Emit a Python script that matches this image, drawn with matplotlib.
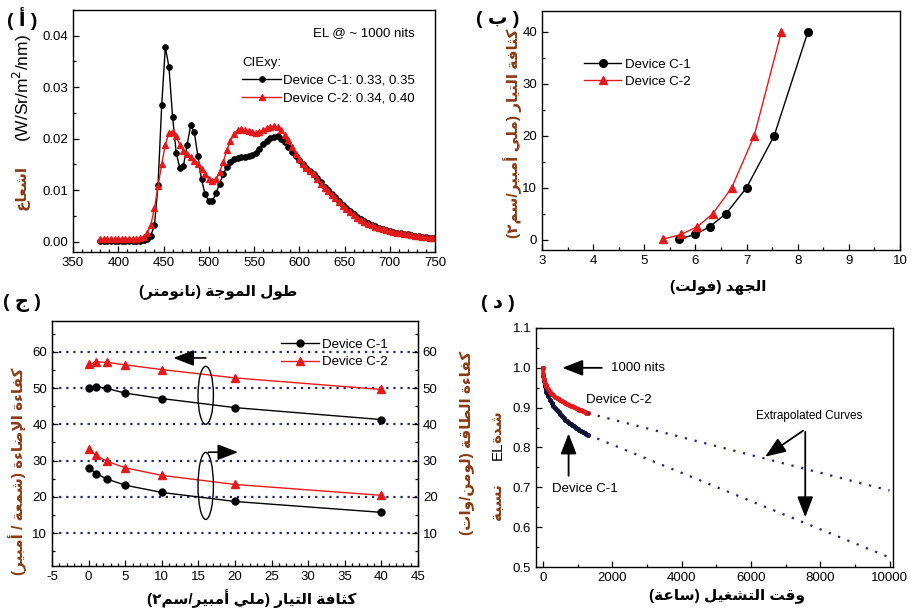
import numpy as np
import matplotlib
matplotlib.use("Agg")
import matplotlib.pyplot as plt
from matplotlib.ticker import MultipleLocator, FormatStrFormatter
from matplotlib.patches import Ellipse

plt.rcParams['font.family'] = ['Liberation Sans', 'DejaVu Sans']
plt.rcParams['axes.unicode_minus'] = False

# ---------------- data ----------------
# (a) EL spectra, sampled every 4 nm from 380 nm to 748 nm
wavelength = np.arange(380, 752, 4)
spec_c1 = [0.0001, 0.0001, 0.0001, 0.0001, 0.0001, 0.0001, 0.0001, 0.0001, 0.0001, 0.0001,
           0.0001, 0.0002, 0.0003, 0.0006, 0.0012, 0.0032, 0.0111, 0.0265, 0.0378, 0.0340,
           0.0243, 0.0173, 0.0143, 0.0147, 0.0187, 0.0226, 0.0213, 0.0166, 0.0121, 0.0092,
           0.0079, 0.0079, 0.0094, 0.0113, 0.0131, 0.0146, 0.0155, 0.0160, 0.0162, 0.0164,
           0.0165, 0.0166, 0.0168, 0.0172, 0.0180, 0.0189, 0.0196, 0.0201, 0.0204, 0.0205,
           0.0200, 0.0193, 0.0184, 0.0175, 0.0166, 0.0158, 0.0150, 0.0143, 0.0137, 0.0131,
           0.0123, 0.0115, 0.0107, 0.0100, 0.0093, 0.0086, 0.0079, 0.0072, 0.0065, 0.0059,
           0.0053, 0.0048, 0.0044, 0.0040, 0.0036, 0.0033, 0.0030, 0.0027, 0.0025, 0.0023,
           0.0021, 0.0019, 0.0017, 0.0016, 0.0015, 0.0014, 0.0013, 0.0012, 0.0011, 0.0010,
           0.0009, 0.0008, 0.0007]
spec_c2 = [0.0005, 0.0005, 0.0005, 0.0005, 0.0005, 0.0005, 0.0005, 0.0005, 0.0005, 0.0006,
           0.0006, 0.0007, 0.0010, 0.0017, 0.0033, 0.0065, 0.0108, 0.0151, 0.0188, 0.0212,
           0.0214, 0.0205, 0.0188, 0.0177, 0.0170, 0.0164, 0.0157, 0.0150, 0.0142, 0.0132,
           0.0122, 0.0118, 0.0122, 0.0135, 0.0155, 0.0178, 0.0196, 0.0210, 0.0216, 0.0218,
           0.0217, 0.0215, 0.0213, 0.0212, 0.0213, 0.0216, 0.0220, 0.0223, 0.0225, 0.0223,
           0.0217, 0.0208, 0.0197, 0.0184, 0.0171, 0.0160, 0.0151, 0.0143, 0.0137, 0.0131,
           0.0122, 0.0113, 0.0105, 0.0098, 0.0091, 0.0084, 0.0077, 0.0070, 0.0063, 0.0057,
           0.0051, 0.0046, 0.0042, 0.0038, 0.0035, 0.0032, 0.0029, 0.0027, 0.0025, 0.0023,
           0.0021, 0.0019, 0.0017, 0.0016, 0.0015, 0.0014, 0.0013, 0.0012, 0.0011, 0.0010,
           0.0009, 0.0008, 0.0007]
legend_c1 = "Device C-1: 0.33, 0.35"
legend_c2 = "Device C-2: 0.34, 0.40"

# (b) J-V
current_density = [0.1, 1, 2.5, 5, 10, 20, 40]
voltage_c1 = [5.67, 6.0, 6.28, 6.6, 7.0, 7.54, 8.2]
voltage_c2 = [5.37, 5.72, 6.04, 6.34, 6.71, 7.15, 7.68]

# (c) efficiencies vs current density
le_c1 = [50.1, 50.4, 49.9, 48.6, 47.1, 44.6, 41.3]
le_c2 = [56.5, 57.2, 57.1, 56.4, 55.1, 52.8, 49.6]
pe_c1 = [28.0, 26.4, 24.9, 23.2, 21.2, 18.7, 15.7]
pe_c2 = [33.2, 31.4, 29.8, 28.0, 25.9, 23.4, 20.4]

# (d) lifetime
time_h = [0, 10, 25, 50, 75, 100, 150, 200, 250, 300, 350, 400, 450, 500, 550, 600,
          650, 700, 750, 800, 850, 900, 950, 1000, 1050, 1100, 1150, 1200, 1250, 1300]
life_c1 = [1.0, 0.980, 0.968, 0.955, 0.946, 0.940, 0.929, 0.920, 0.912, 0.905, 0.899,
           0.893, 0.888, 0.883, 0.878, 0.874, 0.870, 0.866, 0.862, 0.859, 0.856, 0.853,
           0.850, 0.847, 0.844, 0.841, 0.839, 0.836, 0.834, 0.832]
life_c2 = [1.0, 0.985, 0.972, 0.963, 0.958, 0.954, 0.947, 0.940, 0.935, 0.931, 0.927,
           0.924, 0.921, 0.918, 0.916, 0.913, 0.911, 0.909, 0.907, 0.905, 0.903, 0.901,
           0.899, 0.897, 0.895, 0.893, 0.891, 0.889, 0.887, 0.886]
time_ext = [1300, 10000]
ext_c1 = [0.832, 0.524]
ext_c2 = [0.886, 0.692]

# ---------------- Arabic shaping (visual order) ----------------
_AR = {'ء': (0xFE80, 1), 'آ': (0xFE81, 2), 'أ': (0xFE83, 2), 'ؤ': (0xFE85, 2), 'إ': (0xFE87, 2),
       'ئ': (0xFE89, 4), 'ا': (0xFE8D, 2), 'ب': (0xFE8F, 4), 'ة': (0xFE93, 2), 'ت': (0xFE95, 4),
       'ث': (0xFE99, 4), 'ج': (0xFE9D, 4), 'ح': (0xFEA1, 4), 'خ': (0xFEA5, 4), 'د': (0xFEA9, 2),
       'ذ': (0xFEAB, 2), 'ر': (0xFEAD, 2), 'ز': (0xFEAF, 2), 'س': (0xFEB1, 4), 'ش': (0xFEB5, 4),
       'ص': (0xFEB9, 4), 'ض': (0xFEBD, 4), 'ط': (0xFEC1, 4), 'ظ': (0xFEC5, 4), 'ع': (0xFEC9, 4),
       'غ': (0xFECD, 4), 'ف': (0xFED1, 4), 'ق': (0xFED5, 4), 'ك': (0xFED9, 4), 'ل': (0xFEDD, 4),
       'م': (0xFEE1, 4), 'ن': (0xFEE5, 4), 'ه': (0xFEE9, 4), 'و': (0xFEED, 2), 'ى': (0xFEEF, 2),
       'ي': (0xFEF1, 4)}
_LAM_ALEF = {'آ': 0xFEF5, 'أ': 0xFEF7, 'إ': 0xFEF9, 'ا': 0xFEFB}


def _dual(c):
    return c in _AR and _AR[c][1] == 4


def _shape(s):
    out, i, n = [], 0, len(s)
    while i < n:
        c = s[i]
        if c not in _AR:
            out.append(c)
            i += 1
            continue
        jp = i > 0 and _dual(s[i - 1])
        if c == 'ل' and i + 1 < n and s[i + 1] in _LAM_ALEF:
            out.append(chr(_LAM_ALEF[s[i + 1]] + (1 if jp else 0)))
            i += 2
            continue
        jn = _dual(c) and i + 1 < n and s[i + 1] in _AR
        base, k = _AR[c]
        if k == 1:
            code = base
        elif jp and jn:
            code = base + 3
        elif jp:
            code = base + 1
        elif jn:
            code = base + 2
        else:
            code = base
        out.append(chr(code))
        i += 1
    return ''.join(out)


def ar(s):
    t = _shape(s)[::-1]
    return t.translate(str.maketrans('()', ')('))


# ---------------- figure ----------------
W, H = 917, 613
fig = plt.figure(figsize=(W / 100, H / 100), dpi=100)

AR_COLOR = '#8a3a12'
RED = '#e31a1c'
NAVY = '#23237a'
TICK_FS = 9.5
AR_FS = 11
LEG_FS = 9.5


def add_ax(l, t, r, b):
    return fig.add_axes([l / W, 1 - b / H, (r - l) / W, (b - t) / H])


def ftext(x, y, s, **kw):
    return fig.text(x / W, 1 - y / H, s, **kw)


def style(ax):
    ax.tick_params(which='both', direction='in', top=False, right=False, labelsize=TICK_FS,
                   width=0.9)
    ax.tick_params(which='major', length=4.5)
    ax.tick_params(which='minor', length=2.5)
    for sp in ax.spines.values():
        sp.set_linewidth(1.0)


# ---- (a) spectra ----
ax1 = add_ax(73, 10, 435, 252)
ax1.plot(wavelength, spec_c1, '-o', color='black', lw=1.0, ms=3.8, label=legend_c1)
ax1.plot(wavelength, spec_c2, '-^', color=RED, lw=1.0, ms=4.2, label=legend_c2)
ax1.set_xlim(350, 750)
ax1.set_ylim(-0.002, 0.045)
ax1.xaxis.set_major_locator(MultipleLocator(50))
ax1.xaxis.set_minor_locator(MultipleLocator(10))
ax1.yaxis.set_major_locator(MultipleLocator(0.01))
ax1.yaxis.set_minor_locator(MultipleLocator(0.005))
ax1.yaxis.set_major_formatter(FormatStrFormatter('%.2f'))
style(ax1)
leg1 = ax1.legend(loc='upper left', bbox_to_anchor=(0.468, 0.805), frameon=False,
                  title='CIExy:', alignment='left', fontsize=LEG_FS, title_fontsize=LEG_FS,
                  handlelength=2.9, handletextpad=0.2, borderpad=0, labelspacing=0.4,
                  borderaxespad=0)
ax1.text(0.945, 0.905, 'EL @ ~ 1000 nits', transform=ax1.transAxes, ha='right', va='center',
         fontsize=LEG_FS)
ftext(218, 292, ar('طول الموجة (نانومتر)'), ha='center', va='center', fontsize=AR_FS,
      fontweight='bold')
ftext(22, 88, '(W/Sr/m$^2$/nm)', rotation=90, ha='center', va='center', fontsize=12.5)
ftext(22, 188, ar('اشعاع'), rotation=90, ha='center', va='center', fontsize=AR_FS,
      fontweight='bold', color=AR_COLOR)
ftext(22, 19, '( ' + ar('أ') + ' )', ha='center', va='center', fontsize=14, fontweight='bold')

# ---- (b) J-V ----
ax2 = add_ax(542, 11, 900, 250)
ax2.plot(voltage_c1, current_density, '-o', color='black', lw=1.0, ms=5.5, label='Device C-1')
ax2.plot(voltage_c2, current_density, '-^', color=RED, lw=1.0, ms=6, label='Device C-2')
ax2.set_xlim(3, 10)
ax2.set_ylim(-2, 44)
ax2.xaxis.set_major_locator(MultipleLocator(1))
ax2.xaxis.set_minor_locator(MultipleLocator(0.5))
ax2.yaxis.set_major_locator(MultipleLocator(10))
ax2.yaxis.set_minor_locator(MultipleLocator(5))
style(ax2)
ax2.legend(loc='upper left', bbox_to_anchor=(0.118, 0.80), frameon=False, fontsize=LEG_FS,
           handlelength=2.8, handletextpad=0.3, borderpad=0, labelspacing=0.35,
           borderaxespad=0)
ftext(718, 287, ar('الجهد (فولت)'), ha='center', va='center', fontsize=AR_FS, fontweight='bold')
ftext(513, 133, ar('كثافة التيار (ملي أمبير/سم٢)'), rotation=90, ha='center', va='center',
      fontsize=AR_FS, fontweight='bold', color=AR_COLOR)
ftext(498, 19, '( ' + ar('ب') + ' )', ha='center', va='center', fontsize=14, fontweight='bold')

# ---- (c) efficiencies ----
ax3 = add_ax(52, 321, 418, 566)
for yv in [10, 20, 30, 40, 50, 60]:
    ax3.axhline(yv, color=NAVY, lw=1.6, ls=(0, (1, 2.2)), zorder=1)
ax3.plot(current_density, le_c1, '-o', color='black', lw=1.0, ms=5, label='Device C-1', zorder=3)
ax3.plot(current_density, le_c2, '-^', color=RED, lw=1.0, ms=5.5, label='Device C-2', zorder=3)
ax3.plot(current_density, pe_c1, '-o', color='black', lw=1.0, ms=5, zorder=3)
ax3.plot(current_density, pe_c2, '-^', color=RED, lw=1.0, ms=5.5, zorder=3)
ax3.set_xlim(-5, 45)
ax3.set_ylim(0.9, 68.5)
ax3.xaxis.set_major_locator(MultipleLocator(5))
ax3.xaxis.set_minor_locator(MultipleLocator(1))
ax3.yaxis.set_minor_locator(MultipleLocator(5))
ax3.set_yticks([10, 20, 30, 40, 50, 60])
style(ax3)
ax3r = ax3.twinx()
ax3r.set_ylim(ax3.get_ylim())
ax3r.set_yticks([10, 20, 30, 40, 50, 60])
ax3r.yaxis.set_minor_locator(MultipleLocator(5))
ax3r.tick_params(which='both', direction='in', labelsize=TICK_FS, width=0.9)
ax3r.tick_params(which='major', length=4.5)
ax3r.tick_params(which='minor', length=2.5)
ax3.add_patch(Ellipse((16, 48), 2.1, 16, fill=False, lw=1.0, color='black', zorder=4))
ax3.add_patch(Ellipse((16, 23), 2.1, 18.5, fill=False, lw=1.0, color='black', zorder=4))
ax3.annotate('', xy=(11.2, 58.3), xytext=(16.4, 58.3),
             arrowprops=dict(arrowstyle='-|>,head_length=0.9,head_width=0.35', color='black',
                             lw=1.2, mutation_scale=14))
ax3.annotate('', xy=(20.8, 32.3), xytext=(16.0, 32.3),
             arrowprops=dict(arrowstyle='-|>,head_length=0.9,head_width=0.35', color='black',
                             lw=1.2, mutation_scale=14))
ax3.legend(loc='upper left', bbox_to_anchor=(0.625, 0.928), frameon=False, fontsize=LEG_FS,
           handlelength=2.9, handletextpad=0.25, borderpad=0, labelspacing=0.4,
           borderaxespad=0)
ftext(252, 599, ar('كثافة التيار (ملي أمبير/سم٢)'), ha='center', va='center', fontsize=AR_FS,
      fontweight='bold')
ftext(18, 471, ar('كفاءة الإضاءة (شمعة / أمبير)'), rotation=90, ha='center', va='center',
      fontsize=AR_FS, fontweight='bold', color=AR_COLOR)
ftext(467, 443, ar('كفاءة الطاقة (لومن/وات)'), rotation=90, ha='center', va='center',
      fontsize=AR_FS, fontweight='bold', color=AR_COLOR)
ftext(22, 303, '( ' + ar('ج') + ' )', ha='center', va='center', fontsize=14, fontweight='bold')

# ---- (d) lifetime ----
ax4 = add_ax(536, 328, 893, 567)
ax4.plot(time_h, life_c1, '-o', color='#111133', lw=2.2, ms=2.6)
ax4.plot(time_h, life_c2, '-o', color=RED, lw=2.2, ms=2.6)
ax4.plot(time_ext, ext_c1, color=NAVY, lw=1.6, ls=(0, (1, 3.5)))
ax4.plot(time_ext, ext_c2, color=NAVY, lw=1.6, ls=(0, (1, 3.5)))
ax4.set_xlim(-200, 10100)
ax4.set_ylim(0.5, 1.1)
ax4.xaxis.set_major_locator(MultipleLocator(2000))
ax4.xaxis.set_minor_locator(MultipleLocator(1000))
ax4.yaxis.set_major_locator(MultipleLocator(0.1))
ax4.yaxis.set_minor_locator(MultipleLocator(0.05))
ax4.yaxis.set_major_formatter(FormatStrFormatter('%.1f'))
style(ax4)
big_arrow = dict(arrowstyle='-|>,head_length=0.9,head_width=0.35', color='black', lw=1.3,
                 mutation_scale=14)
ax4.annotate('', xy=(480, 1.0), xytext=(1780, 1.0), arrowprops=big_arrow)
ax4.text(1950, 1.0, '1000 nits', ha='left', va='center', fontsize=9.5)
ax4.text(1250, 0.92, 'Device C-2', ha='left', va='center', fontsize=9.5)
ax4.text(270, 0.697, 'Device C-1', ha='left', va='center', fontsize=9.5)
ax4.annotate('', xy=(740, 0.842), xytext=(740, 0.722), arrowprops=big_arrow)
ax4.text(6150, 0.879, 'Extrapolated Curves', ha='left', va='center', fontsize=8.5)
ax4.annotate('', xy=(6345, 0.773), xytext=(7568, 0.846), arrowprops=big_arrow)
ax4.annotate('', xy=(7568, 0.618), xytext=(7568, 0.846), arrowprops=big_arrow)
ftext(727, 596, ar('وقت التشغيل (ساعة)'), ha='center', va='center', fontsize=AR_FS,
      fontweight='bold')
ftext(498, 502, ar('نسبة'), rotation=90, ha='center', va='center', fontsize=AR_FS,
      fontweight='bold', color=AR_COLOR)
ftext(498, 451, 'EL', rotation=90, ha='center', va='center', fontsize=11)
ftext(498, 427, ar('شدة'), rotation=90, ha='center', va='center', fontsize=AR_FS,
      fontweight='bold', color=AR_COLOR)
ftext(498, 303, '( ' + ar('د') + ' )', ha='center', va='center', fontsize=14, fontweight='bold')

fig.savefig('out.png', dpi=100)
